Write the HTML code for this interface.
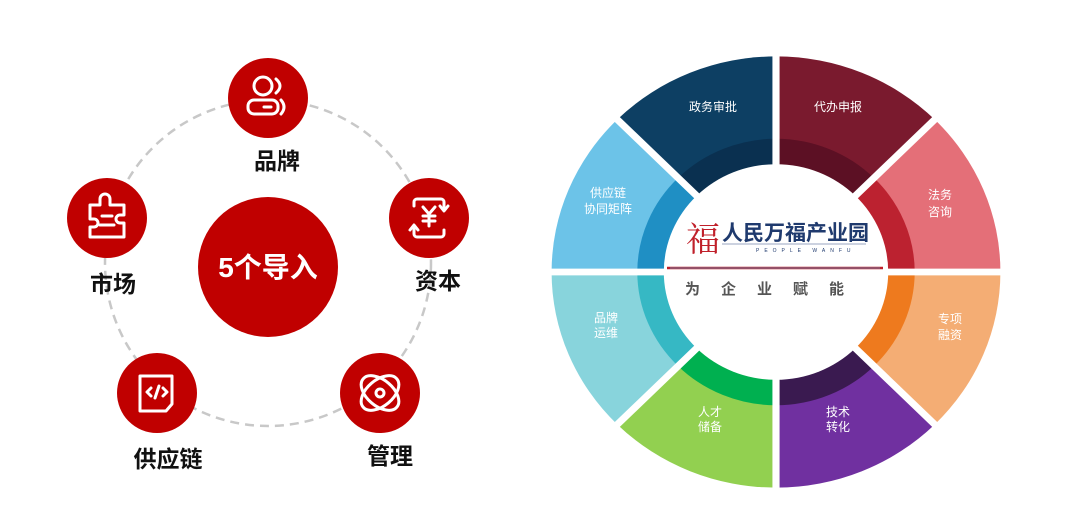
<!DOCTYPE html>
<html><head><meta charset="utf-8"><style>
html,body{margin:0;padding:0;background:#fff;}
body{width:1080px;height:529px;position:relative;overflow:hidden;font-family:"Liberation Sans","Noto Sans CJK SC",sans-serif;}
</style></head><body>
<svg width="1080" height="529" viewBox="0 0 1080 529" xmlns="http://www.w3.org/2000/svg" style="position:absolute;left:0;top:0">
<!-- LEFT -->
<circle cx="268" cy="263" r="163" fill="none" stroke="#c8c8c8" stroke-width="2.5" stroke-dasharray="9 6"/>
<circle cx="268" cy="267" r="70" fill="#c00000"/>
<text x="268" y="277" text-anchor="middle" font-size="28" font-weight="bold" fill="#fff" font-family="Liberation Sans,Noto Sans CJK SC,sans-serif">5个导入</text>
<g fill="#c00000">
<circle cx="268" cy="98" r="40"/><circle cx="107" cy="218" r="40"/><circle cx="429" cy="218" r="40"/>
<circle cx="157" cy="393" r="40"/><circle cx="380" cy="393" r="40"/>
</g>
<g fill="none" stroke="#fff" stroke-width="3" stroke-linecap="round" stroke-linejoin="round">
<circle cx="263" cy="86" r="9"/><rect x="248" y="100" width="30" height="14" rx="6"/><line x1="264" y1="107" x2="271" y2="107"/><path d="M276 79 q8 7 0 14"/><path d="M281 100 q6 7 0 14"/>
<path d="M90 205 h10 v-6 a5 5 0 0 1 10 0 v6 h14 v10 h-4 a4 4 0 0 0 0 8 h4 v14 h-34 v-10 h4 a4 4 0 0 0 0 -8 h-4 z"/><line x1="102" y1="216" x2="112" y2="216"/><line x1="100" y1="225" x2="114" y2="225"/>
<path d="M414 206 v-4 a3 3 0 0 1 3 -3 h24 a3 3 0 0 1 3 3 v8"/><path d="M444 230 v4 a3 3 0 0 1 -3 3 h-24 a3 3 0 0 1 -3 -3 v-8"/><path d="M440 206 l4 5 l4 -5"/><path d="M410 230 l4 -5 l4 5"/>
<path d="M423 207 l6 7 l6 -7 M429 214 v12 M423 216 h12 M423 221 h12"/>
<path d="M140 376 h32 v28 l-6 7 h-26 z"/><path d="M151 388 l-4 4 l4 4 M163 388 l4 4 l-4 4 M159 386 l-4 12"/>
<ellipse cx="380" cy="393" rx="22" ry="13" transform="rotate(40 380 393)"/><ellipse cx="380" cy="393" rx="22" ry="13" transform="rotate(-40 380 393)"/><circle cx="380" cy="393" r="4"/>
</g>
<g font-size="23" font-weight="bold" fill="#111" text-anchor="middle">
<text x="277" y="169">品牌</text><text x="113" y="292">市场</text><text x="438" y="289">资本</text>
<text x="168" y="467">供应链</text><text x="390" y="464">管理</text>
</g>
<!-- RIGHT ring -->
<g transform="translate(776,272) scale(1.02,0.98)">
<path d="M0 0 L0 -220 A220 220 0 0 1 155.6 -155.6 Z" fill="#7a1a2e"/>
<path d="M0 0 L155.6 -155.6 A220 220 0 0 1 220 0 Z" fill="#e46f78"/>
<path d="M0 0 L220 0 A220 220 0 0 1 155.6 155.6 Z" fill="#f4ad74"/>
<path d="M0 0 L155.6 155.6 A220 220 0 0 1 0 220 Z" fill="#7030a0"/>
<path d="M0 0 L0 220 A220 220 0 0 1 -155.6 155.6 Z" fill="#92d050"/>
<path d="M0 0 L-155.6 155.6 A220 220 0 0 1 -220 0 Z" fill="#88d4dc"/>
<path d="M0 0 L-220 0 A220 220 0 0 1 -155.6 -155.6 Z" fill="#6cc3e8"/>
<path d="M0 0 L-155.6 -155.6 A220 220 0 0 1 0 -220 Z" fill="#0d3f63"/>
<path d="M0 0 L0 -136 A136 136 0 0 1 96 -96 Z" fill="#5c1024"/>
<path d="M0 0 L96 -96 A136 136 0 0 1 136 0 Z" fill="#bc2230"/>
<path d="M0 0 L136 0 A136 136 0 0 1 96 96 Z" fill="#ee7a1e"/>
<path d="M0 0 L96 96 A136 136 0 0 1 0 136 Z" fill="#3a1a50"/>
<path d="M0 0 L0 136 A136 136 0 0 1 -96 96 Z" fill="#00b050"/>
<path d="M0 0 L-96 96 A136 136 0 0 1 -136 0 Z" fill="#36b8c4"/>
<path d="M0 0 L-136 0 A136 136 0 0 1 -96 -96 Z" fill="#1f8fc4"/>
<path d="M0 0 L-96 -96 A136 136 0 0 1 0 -136 Z" fill="#0a3050"/>
<g stroke="#fff" stroke-width="7">
<line x1="0" y1="-240" x2="0" y2="240"/><line x1="-240" y1="0" x2="240" y2="0"/>
<line x1="-170" y1="-170" x2="170" y2="170"/><line x1="-170" y1="170" x2="170" y2="-170"/>
</g>
<circle r="110" fill="#fff"/>
</g>
<g font-size="12" fill="#fff" text-anchor="middle">
<text x="713" y="111">政务审批</text><text x="838" y="111">代办申报</text>
<text x="940" y="199">法务</text><text x="940" y="216">咨询</text>
<text x="950" y="323">专项</text><text x="950" y="339">融资</text>
<text x="838" y="416">技术</text><text x="838" y="431">转化</text>
<text x="710" y="416">人才</text><text x="710" y="431">储备</text>
<text x="606" y="322">品牌</text><text x="606" y="337">运维</text>
<text x="608" y="197">供应链</text><text x="608" y="213">协同矩阵</text>
</g>
<text x="686" y="251" font-size="34" fill="#c0202a" font-family="Noto Serif CJK SC,serif">福</text>
<text x="722" y="240" font-size="21" font-weight="bold" fill="#1f3a6e">人民万福产业园</text>
<line x1="722" y1="244" x2="866" y2="244" stroke="#9aa4c0" stroke-width="1"/>
<text x="756" y="252" font-size="5" fill="#1f3a6e" letter-spacing="5">PEOPLE WANFU</text>
<line x1="667" y1="268" x2="883" y2="268" stroke="#c0202a" stroke-width="2.5"/>
<line x1="670" y1="268" x2="880" y2="268" stroke="#4aa0d0" stroke-width="0.8"/>
<text x="775" y="294" text-anchor="middle" font-size="15" font-weight="bold" fill="#555" letter-spacing="21">为企业赋能</text>
</svg>
</body></html>
